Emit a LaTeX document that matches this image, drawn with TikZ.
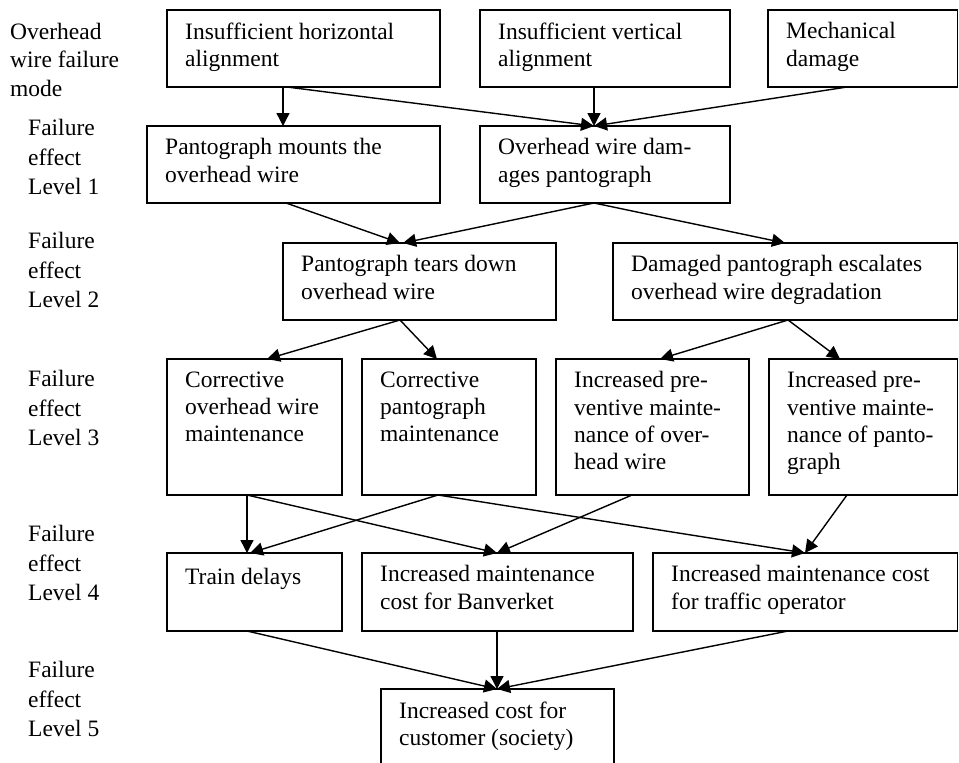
\documentclass[tikz,border=0pt]{standalone}
\usepackage{fontspec}
\setmainfont{Liberation Serif}
\usetikzlibrary{arrows.meta}

\tikzset{
  box/.style={draw, line width=1.4pt, inner sep=0pt, outer sep=0pt, anchor=north west},
  boxtext/.style={anchor=north west, inner sep=0pt, align=left,
    font=\fontsize{23.5}{27.3}\selectfont, execute at begin node=\strut},
  lvl/.style={anchor=north west, inner sep=0pt, align=left,
    font=\fontsize{23.5}{29.5}\selectfont, execute at begin node=\strut},
  modelabel/.style={lvl, font=\fontsize{23.5}{28.5}\selectfont},
  flow/.style={line width=1.4pt, -{Triangle[length=13pt,width=13pt]}},
}

% \flowbox{name}{left}{top}{right}{bottom}{text}
\newcommand\flowbox[6]{%
  \node[box, minimum width={(#4-#2)*1pt}, minimum height={(#5-#3)*1pt}] (#1) at (#2,#3) {};
  \node[boxtext] (#1-t) at ([xshift=18pt,yshift=-12.3pt]#1.north west) {#6};
}

\begin{document}
\begin{tikzpicture}[x=1pt,y=-1pt]
\fill[white] (0,0) rectangle (959,763);
\useasboundingbox (0,0) rectangle (959,763);

% row labels
\node[modelabel] (lab0) at (10,22.75) {Overhead\\wire failure\\mode};
\node[lvl] (lab1) at (28,119.35) {Failure\\effect\\Level 1};
\node[lvl] (lab2) at (28,232.35) {Failure\\effect\\Level 2};
\node[lvl] (lab3) at (28,370) {Failure\\effect\\Level 3};
\node[lvl] (lab4) at (28,525.35) {Failure\\effect\\Level 4};
\node[lvl] (lab5) at (28,661.35) {Failure\\effect\\Level 5};

% failure modes
\flowbox{hor}{167}{10}{440}{87}{Insufficient horizontal\\alignment}
\flowbox{ver}{480}{10}{730}{87}{Insufficient vertical\\alignment}
\flowbox{mech}{768}{10}{957.5}{87}{Mechanical\\damage}

% level 1
\flowbox{mount}{147}{126}{440}{203}{Pantograph mounts the\\overhead wire}
\flowbox{dmg}{480}{126}{730}{203}{Overhead wire dam-\\ages pantograph}

% level 2
\flowbox{tear}{283}{243}{556}{320}{Pantograph tears down\\overhead wire}
\flowbox{esc}{613}{243}{957.5}{320}{Damaged pantograph escalates\\overhead wire degradation}

% level 3
\flowbox{corw}{167}{359}{342}{495}{Corrective\\overhead wire\\maintenance}
\flowbox{corp}{362}{359}{536}{495}{Corrective\\pantograph\\maintenance}
\flowbox{prew}{556}{359}{749}{495}{Increased pre-\\ventive mainte-\\nance of over-\\head wire}
\flowbox{prep}{769}{359}{957.5}{495}{Increased pre-\\ventive mainte-\\nance of panto-\\graph}

% level 4
\flowbox{delay}{167}{553}{342}{631}{Train delays}
\flowbox{banv}{362}{553}{633}{631}{Increased maintenance\\cost for Banverket}
\flowbox{oper}{653}{553}{957.5}{631}{Increased maintenance cost\\for traffic operator}

% level 5
\flowbox{cust}{381}{689}{614}{770}{Increased cost for\\customer (society)}

% connectors: modes -> level 1
\draw[flow] ([xshift=116pt]hor.south west) -- ([xshift=136pt]mount.north west);
\draw[flow] ([xshift=120pt]hor.south west) -- ([xshift=114pt]dmg.north west);
\draw[flow] ([xshift=114pt]ver.south west) -- ([xshift=114pt]dmg.north west);
\draw[flow] ([xshift=79pt]mech.south west) -- ([xshift=114pt]dmg.north west);

% level 1 -> level 2
\draw[flow] ([xshift=139pt]mount.south west) -- ([xshift=117pt]tear.north west);
\draw[flow] ([xshift=114pt]dmg.south west) -- ([xshift=120pt]tear.north west);
\draw[flow] ([xshift=114pt]dmg.south west) -- ([xshift=172pt]esc.north west);

% level 2 -> level 3
\draw[flow] ([xshift=117pt]tear.south west) -- ([xshift=100pt]corw.north west);
\draw[flow] ([xshift=117pt]tear.south west) -- ([xshift=75pt]corp.north west);
\draw[flow] ([xshift=175pt]esc.south west) -- ([xshift=104pt]prew.north west);
\draw[flow] ([xshift=175pt]esc.south west) -- ([xshift=71pt]prep.north west);

% level 3 -> level 4
\draw[flow] ([xshift=80pt]corw.south west) -- ([xshift=80pt]delay.north west);
\draw[flow] ([xshift=80pt]corw.south west) -- ([xshift=135pt]banv.north west);
\draw[flow] ([xshift=76pt]corp.south west) -- ([xshift=83pt]delay.north west);
\draw[flow] ([xshift=76pt]corp.south west) -- ([xshift=152pt]oper.north west);
\draw[flow] ([xshift=76pt]prew.south west) -- ([xshift=135pt]banv.north west);
\draw[flow] ([xshift=78pt]prep.south west) -- ([xshift=152pt]oper.north west);

% level 4 -> level 5
\draw[flow] ([xshift=80pt]delay.south west) -- ([xshift=116pt]cust.north west);
\draw[flow] ([xshift=135pt]banv.south west) -- ([xshift=116pt]cust.north west);
\draw[flow] ([xshift=135pt]oper.south west) -- ([xshift=116pt]cust.north west);
\end{tikzpicture}
\end{document}
